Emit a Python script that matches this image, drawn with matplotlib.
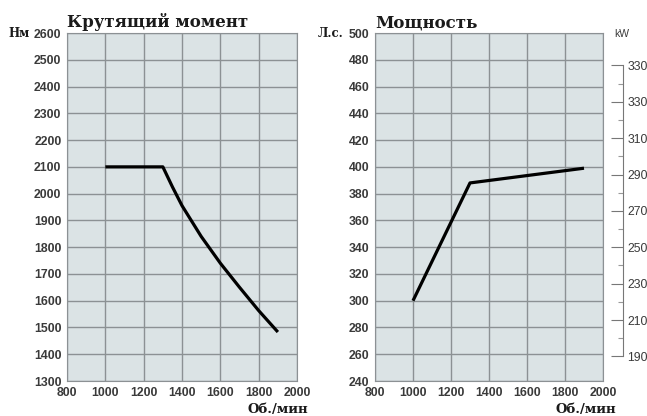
import matplotlib.pyplot as plt
from matplotlib.ticker import FixedLocator

# данные: крутящий момент
rpm_torque = [1000, 1300, 1350, 1400, 1500, 1600, 1700, 1800, 1900]
torque = [2100, 2100, 2025, 1955, 1840, 1740, 1650, 1563, 1483]

# данные: мощность
rpm_power = [1000, 1300, 1900]
power = [300, 388, 399]

x_ticks = [800, 1000, 1200, 1400, 1600, 1800, 2000]
torque_ticks = list(range(1300, 2601, 100))
power_ticks = list(range(240, 501, 20))
kw_ticks = [190, 210, 230, 250, 270, 290, 310, 330, 350]
kw_minor = [200, 220, 240, 260, 280, 300, 320, 340]
kw_labels = ["190", "210", "230", "250", "270", "290", "310", "330", "330"]

HP_TO_KW = 0.7355
BG = "#dbe3e5"
GRID = "#8c9194"
TXT = "#3a3a3a"


def style_axes(ax, yticks):
    ax.set_facecolor(BG)
    ax.set_xlim(800, 2000)
    ax.set_ylim(yticks[0], yticks[-1])
    ax.set_xticks(x_ticks)
    ax.set_yticks(yticks)
    ax.grid(True, color=GRID, linewidth=1.0)
    ax.set_axisbelow(True)
    for s in ax.spines.values():
        s.set_color(GRID)
    ax.tick_params(length=0, labelsize=8.8, colors=TXT, pad=4)
    for lab in ax.get_xticklabels() + ax.get_yticklabels():
        lab.set_fontweight("bold")
        lab.set_family("Liberation Sans")


def main():
    fig = plt.figure(figsize=(6.47, 4.16), dpi=100)

    ax1 = fig.add_axes([0.1036, 0.0841, 0.3555, 0.8365])
    style_axes(ax1, torque_ticks)
    ax1.plot(rpm_torque, torque, color="black", linewidth=2.3, solid_capstyle="butt")

    ax2 = fig.add_axes([0.5796, 0.0841, 0.3524, 0.8365])
    style_axes(ax2, power_ticks)
    ax2.plot(rpm_power, power, color="black", linewidth=2.3, solid_capstyle="butt")

    # ось кВт справа
    ax3 = ax2.twinx()
    ax3.set_ylim(240 * HP_TO_KW, 500 * HP_TO_KW)
    for name in ["top", "bottom", "left"]:
        ax3.spines[name].set_visible(False)
    ax3.spines["right"].set_position(("outward", 14.4))
    ax3.spines["right"].set_bounds(190, 350)
    ax3.spines["right"].set_color("#777777")
    ax3.set_yticks(kw_ticks)
    ax3.set_yticklabels(kw_labels)
    ax3.yaxis.set_minor_locator(FixedLocator(kw_minor))
    ax3.tick_params(axis="y", which="major", direction="in", length=8.5, width=0.8,
                    color="#777777", labelsize=8.8, labelcolor=TXT, pad=3)
    ax3.tick_params(axis="y", which="minor", direction="in", length=3.5, width=0.8,
                    color="#999999")
    for lab in ax3.get_yticklabels():
        lab.set_family("Liberation Sans")

    title_font = dict(family="DejaVu Serif", fontweight="bold", color="#1a1a1a")
    fig.text(67 / 647, 1 - 27 / 416, "Крутящий момент", fontsize=12, **title_font)
    fig.text(375 / 647, 1 - 27 / 416, "Мощность", fontsize=12, **title_font)
    fig.text(8 / 647, 1 - 37 / 416, "Нм", fontsize=8.5, **title_font)
    fig.text(318 / 647, 1 - 37 / 416, "Л.с.", fontsize=8.5, **title_font)
    fig.text(614 / 647, 1 - 37 / 416, "kW", fontsize=7.5, family="Liberation Sans",
             color=TXT)
    fig.text(308 / 647, 1 - 413 / 416, "Об./мин", fontsize=9.5, ha="right", **title_font)
    fig.text(616 / 647, 1 - 413 / 416, "Об./мин", fontsize=9.5, ha="right", **title_font)

    fig.savefig("out.png", dpi=100, facecolor="white")


if __name__ == '__main__':
    main()
